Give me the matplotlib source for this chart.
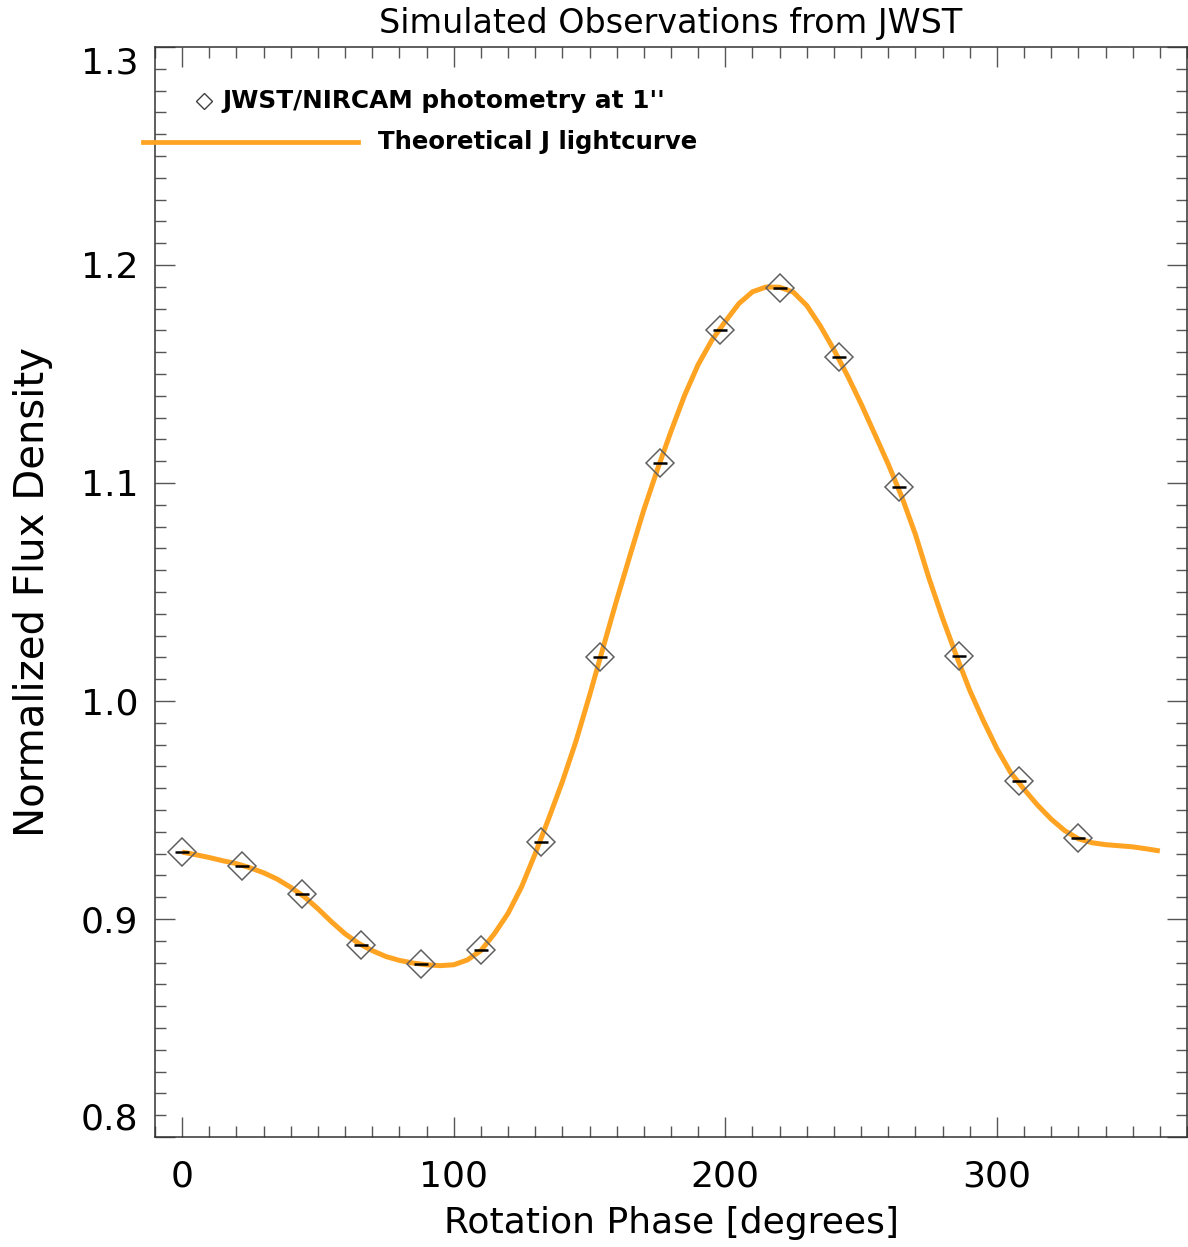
import matplotlib
matplotlib.use("Agg")
import matplotlib.pyplot as plt
from matplotlib.lines import Line2D
from matplotlib.ticker import MultipleLocator

# ---- data ----
obs_phase = [0, 22, 44, 66, 88, 110, 132, 154, 176, 198, 220, 242, 264, 286, 308, 330]
obs_flux = [0.9307, 0.9245, 0.9113, 0.8879, 0.8793, 0.8858, 0.9355, 1.0202,
            1.1090, 1.1700, 1.1896, 1.1580, 1.0982, 1.0208, 0.9631, 0.9373]

curve_phase = [0, 5, 10, 15, 20, 25, 30, 35, 40, 45, 50, 55, 60, 65, 70, 75, 80, 85, 90,
               95, 100, 105, 110, 115, 120, 125, 130, 135, 140, 145, 150, 155, 160, 165,
               170, 175, 180, 185, 190, 195, 200, 205, 210, 215, 220, 225, 230, 235, 240,
               245, 250, 255, 260, 265, 270, 275, 280, 285, 290, 295, 300, 305, 310, 315,
               320, 325, 330, 335, 340, 345, 350, 355, 360]
curve_flux = [0.9307, 0.9295, 0.9282, 0.9267, 0.9254, 0.9235, 0.9212, 0.9183, 0.9145,
              0.9102, 0.9047, 0.8987, 0.8932, 0.8888, 0.8855, 0.8828, 0.8810, 0.8798,
              0.8790, 0.8786, 0.8790, 0.8812, 0.8855, 0.8933, 0.9026, 0.9148, 0.9300,
              0.9462, 0.9630, 0.9815, 1.0025, 1.0245, 1.0463, 1.0672, 1.0877, 1.1062,
              1.1237, 1.1402, 1.1543, 1.1654, 1.1741, 1.1823, 1.1877, 1.1899, 1.1898,
              1.1876, 1.1814, 1.1720, 1.1611, 1.1492, 1.1363, 1.1225, 1.1086, 1.0936,
              1.0764, 1.0563, 1.0380, 1.0210, 1.0049, 0.9910, 0.9782, 0.9673, 0.9595,
              0.9522, 0.9458, 0.9405, 0.9368, 0.9350, 0.9341, 0.9336, 0.9331, 0.9322,
              0.9312]

y_ticks = [0.8, 0.9, 1.0, 1.1, 1.2, 1.3]
y_ticklabels = ['0.8', '0.9', '1.0', '1.1', '1.2', '1.3']
x_ticks = [0, 100, 200, 300]
x_ticklabels = ['0', '100', '200', '300']

title = "Simulated Observations from JWST"
xlabel = "Rotation Phase [degrees]"
ylabel = "Normalized Flux Density"
legend_obs = "JWST/NIRCAM photometry at 1''"
legend_curve = "Theoretical J lightcurve"

# ---- figure ----
W, H = 1188, 1247
fig = plt.figure(figsize=(W / 100, H / 100), dpi=100)
plt.rcParams['font.family'] = ['DejaVu Sans']

L, R, T, B = 155, 1187, 47, 1137
ax = fig.add_axes([L / W, 1 - B / H, (R - L) / W, (B - T) / H])

orange = '#FFA322'
ax.plot(curve_phase, curve_flux, color=orange, lw=3.6, zorder=2,
        solid_capstyle='butt', solid_joinstyle='round')
ax.plot(obs_phase, obs_flux, ls='none', marker='D', ms=13.8, mfc='none',
        mec='#606060', mew=1.1, zorder=3)
ax.plot(obs_phase, obs_flux, ls='none', marker='_', ms=9.5, mec='black', mew=1.8, zorder=4)

ax.set_xlim(-10, 370)
ax.set_ylim(0.8, 1.3)
ax.xaxis.set_minor_locator(MultipleLocator(10))
ax.yaxis.set_minor_locator(MultipleLocator(0.01))
ax.set_yticks(y_ticks)
ax.set_yticklabels(y_ticklabels)
ax.set_xticks(x_ticks)
ax.set_xticklabels(x_ticklabels)

ax.tick_params(which='both', direction='in', top=True, right=True, color='#555555', width=1.0)
ax.tick_params(which='major', length=14.5, labelsize=26, colors='#555555', labelcolor='black')
ax.tick_params(which='minor', length=8)
ax.tick_params(axis='x', which='major', pad=16)
ax.tick_params(axis='y', which='major', pad=12)
ylabs = ax.get_yticklabels()
ylabs[0].set_verticalalignment('bottom')
ylabs[-1].set_verticalalignment('top')
for s in ax.spines.values():
    s.set_linewidth(1.1)
    s.set_color('#333333')

ax.set_title(title, fontsize=24, pad=10)
ax.set_xlabel(xlabel, fontsize=26, labelpad=9)
ax.set_ylabel(ylabel, fontsize=29, labelpad=20)

# ---- manual legend (figure pixel coordinates) ----
def fx(px):
    return px / W

def fy(py):
    return 1 - py / H

fig.add_artist(Line2D([fx(204)], [fy(101)], marker='D', ms=8, mfc='none', mec='#404040',
                      mew=1.0, ls='none', transform=fig.transFigure))
fig.text(fx(222), fy(101), legend_obs, fontsize=17.8, fontweight='bold', va='center', ha='left')
fig.add_artist(Line2D([fx(143), fx(358)], [fy(142), fy(142)], color=orange, lw=3.4,
                      transform=fig.transFigure))
fig.text(fx(378), fy(142), legend_curve, fontsize=17.6, fontweight='bold', va='center', ha='left')

fig.savefig('out.png', dpi=100)
